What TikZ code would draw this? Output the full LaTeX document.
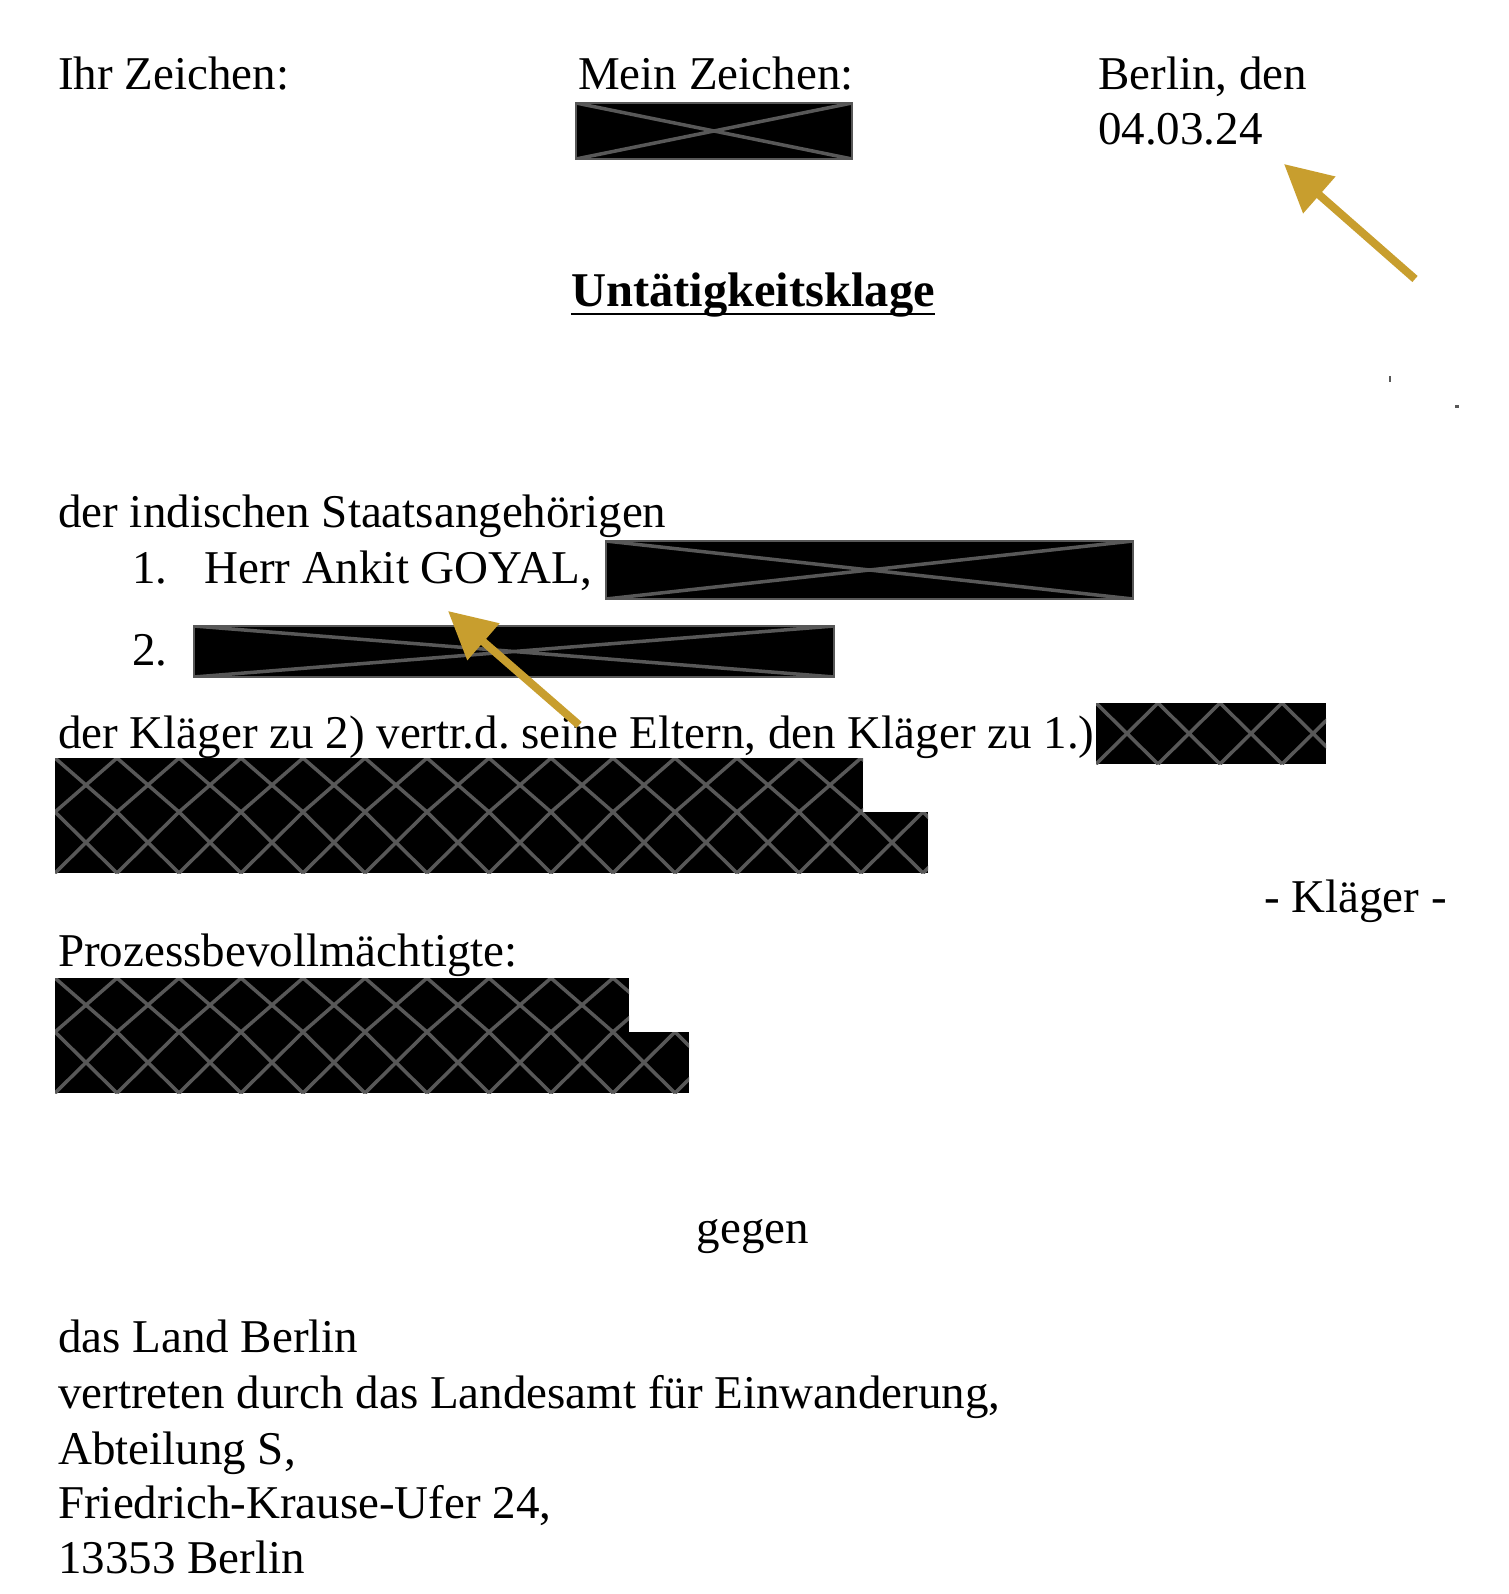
\documentclass[tikz,border=0pt]{standalone}
\usepackage{fontspec}
\setmainfont{Liberation Serif}
\usetikzlibrary{arrows.meta,fit}
\definecolor{redactgray}{RGB}{88,88,88}
\definecolor{arrowgold}{RGB}{200,158,46}
\frenchspacing

\begin{document}
\begin{tikzpicture}[x=1pt,y=-1pt,
  txt/.style={inner sep=0pt,font=\fontsize{47}{55}\selectfont},
  xbox/.style={fill=black,draw=redactgray,line width=1.5pt,inner sep=0pt,
    path picture={\draw[redactgray,line width=3.5pt]
      (path picture bounding box.north west) -- (path picture bounding box.south east)
      (path picture bounding box.south west) -- (path picture bounding box.north east);}},
  hbox/.style={fill=black,inner sep=0pt,
    path picture={\foreach \k in {0,...,15}{
      \draw[redactgray,line width=3.5pt]
        ([xshift=\k*62pt]path picture bounding box.north west) -- ([xshift=\k*62pt+62pt]path picture bounding box.south west)
        ([xshift=\k*62pt]path picture bounding box.south west) -- ([xshift=\k*62pt+62pt]path picture bounding box.north west);}}},
  pointer/.style={arrowgold,line width=8pt,-{Triangle[length=47pt,width=47pt]}}]
\useasboundingbox[fill=white] (0,0) rectangle (1508,1594);
% header
\node[txt,anchor=base west] (ihr) at (58,89.5) {Ihr Zeichen:};
\node[txt,anchor=base west] (mein) at (578,89.5) {Mein Zeichen:};
\node[xbox,fit={(576,103) (852,159)}] (meinRed) {};
\node[txt,anchor=base west] (ort) at (1098,89.5) {Berlin, den};
\node[txt,anchor=base west] (datum) at (1098,145) {04.03.24};
\coordinate (datumTip) at (1284,164);
\coordinate (datumTail) at (1415,279);
\draw[pointer] (datumTail) -- (datumTip);
% title
\node[txt,anchor=base,font=\fontsize{48.5}{55}\selectfont\bfseries] (titel) at (753,307) {Untätigkeitsklage};
\draw[line width=2.5pt] ([yshift=-7pt]titel.base west) -- ([yshift=-7pt]titel.base east);
\fill[redactgray] (1389,376) rectangle (1391,382);
\fill[redactgray] (1455,405) rectangle (1459,408);
% plaintiffs
\node[txt,anchor=base west] (staat) at (58,527) {der indischen Staatsangehörigen};
\node[txt,anchor=base west] (nrA) at (132,583) {1.};
\node[txt,anchor=base west] (goyal) at (204,583) {Herr Ankit GOYAL,};
\node[xbox,fit={(606,541) (1133,599)}] (goyalRed) {};
\node[txt,anchor=base west] (nrB) at (132,665) {2.};
\node[xbox,fit={(194,626) (834,677)}] (kindRed) {};
\coordinate (kindTip) at (448,611);
\coordinate (kindTail) at (579,725);
\node[txt,anchor=base west] (vertr) at (58,748) {der Kläger zu 2) vertr.d. seine Eltern, den Kläger zu 1.)};
\draw[pointer] (kindTail) -- (kindTip);
\node[hbox,fit={(1096,703) (1326,764)}] (vertrRed) {};
\node[hbox,fit={(55,758) (863,812)}] (anschrRedA) {};
\node[hbox,fit={(55,812) (928,873)}] (anschrRedB) {};
\node[txt,anchor=base east] (klaeger) at (1447,912) {- Kläger -};
% counsel
\node[txt,anchor=base west] (prozess) at (58,966) {Prozessbevollmächtigte:};
\node[hbox,fit={(55,978) (629,1032)}] (prozessRedA) {};
\node[hbox,fit={(55,1032) (689,1093)}] (prozessRedB) {};
% defendant
\node[txt,anchor=base] (gegen) at (753,1243) {gegen};
\node[txt,anchor=base west] (land) at (58,1352) {das Land Berlin};
\node[txt,anchor=base west] (lea) at (58,1408) {vertreten durch das Landesamt für Einwanderung,};
\node[txt,anchor=base west] (abt) at (58,1464) {Abteilung S,};
\node[txt,anchor=base west] (str) at (58,1518) {Friedrich-Krause-Ufer 24,};
\node[txt,anchor=base west] (plz) at (58,1573) {13353 Berlin};
\end{tikzpicture}
\end{document}
